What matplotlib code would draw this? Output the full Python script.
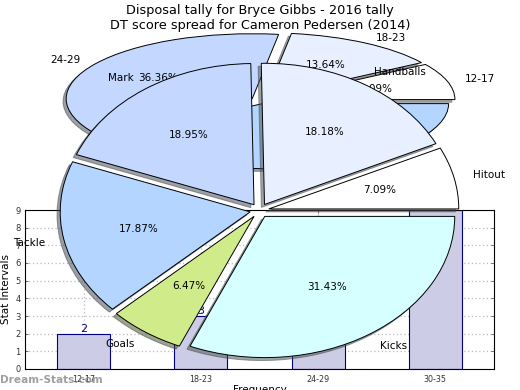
import matplotlib
matplotlib.use("Agg")
import matplotlib.pyplot as plt

W = 520.0
H = 390.0

# bar chart
bar_labels = ["12-17", "18-23", "24-29", "30-35"]
bar_values = [2, 3, 8, 9]

# pie at the top
pie1_labels = ["12-17", "18-23", "24-29", "30-35"]
pie1_values = [2, 3, 8, 9]
pie1_colors = ["#FFFFFF", "#E8F0FF", "#C4D8FF", "#B3D5FF"]

# big pie
pie2_labels = ["Kicks", "Goals", "Tackle", "Mark", "Handballs", "Hitout"]
pie2_values = [31.43, 6.47, 17.87, 18.95, 18.18, 7.09]
pie2_colors = ["#D6FFFF", "#D0EC8A", "#B3D5FF", "#C4D8FF", "#E8F0FF", "#FFFFFF"]

def box(x0, x1, top, bottom):
    # pixel box to figure fractions
    return [x0 / W, 1 - bottom / H, (x1 - x0) / W, (bottom - top) / H]

fig = plt.figure(figsize=(5.2, 3.9), dpi=100, facecolor="white")

ax = fig.add_axes(box(25, 494, 210, 369))
xs = range(len(bar_labels))
bars = ax.bar(xs, bar_values, width=0.45, color="#CCCCE6", edgecolor="navy", linewidth=0.8)
for x, v in zip(xs, bar_values):
    ax.text(x, v, str(v), ha="center", va="bottom", color="navy", fontsize=8, clip_on=True)
ax.set_xlim(-0.5, 3.5)
ax.set_ylim(0, 9)
ax.set_xticks(list(xs))
ax.set_xticklabels(bar_labels, fontsize=5.8)
ax.set_yticks(range(10))
ax.tick_params(axis="y", labelsize=6, direction="in", length=2, width=0.5, right=True, pad=3, colors="#333333")
ax.tick_params(axis="x", direction="in", length=2, width=0.5, top=True, pad=4, colors="#333333")
ax.grid(True, linestyle=(0, (1, 2)), color="#BBBBBB", linewidth=0.9)
ax.set_axisbelow(True)
ax.set_ylabel("Stat Intervals", fontsize=7.5, labelpad=3)
ax.set_xlabel("Frequency", fontsize=7.5, labelpad=1)

ax1 = fig.add_axes(box(260 - 232.5, 260 + 232.5, 100.5 - 81.25, 100.5 + 81.25))
w1, t1, p1 = ax1.pie(pie1_values, labels=pie1_labels, colors=pie1_colors, explode=[0.05] * 4,
                     autopct="%.2f%%", shadow={"ox": -0.012, "oy": -0.03}, startangle=0,
                     wedgeprops={"edgecolor": "black", "linewidth": 0.7},
                     textprops={"fontsize": 7.5})
ax1.set_aspect("auto")

ax2 = fig.add_axes(box(259.5 - 237.5, 259.5 + 237.5, 210.5 - 176.5, 210.5 + 176.5))
w2, t2, p2 = ax2.pie(pie2_values, labels=pie2_labels, colors=pie2_colors, explode=[0.05] * 6,
                     autopct="%.2f%%", shadow={"ox": -0.012, "oy": -0.015}, startangle=0, counterclock=False,
                     wedgeprops={"edgecolor": "black", "linewidth": 0.7},
                     textprops={"fontsize": 7.5})
ax2.set_aspect("auto")

fig.text(0.5, 1 - 10.5 / H, "Disposal tally for Bryce Gibbs - 2016 tally", ha="center", va="center", fontsize=9.3)
fig.text(0.5, 1 - 25.5 / H, "DT score spread for Cameron Pedersen (2014)", ha="center", va="center", fontsize=9.3)
fig.text(0, 1 - 380 / H, "Dream-Stats.com", ha="left", va="center", fontsize=7.6, fontweight="bold", color="#888888", alpha=0.8)

fig.savefig("out.png", dpi=100)
